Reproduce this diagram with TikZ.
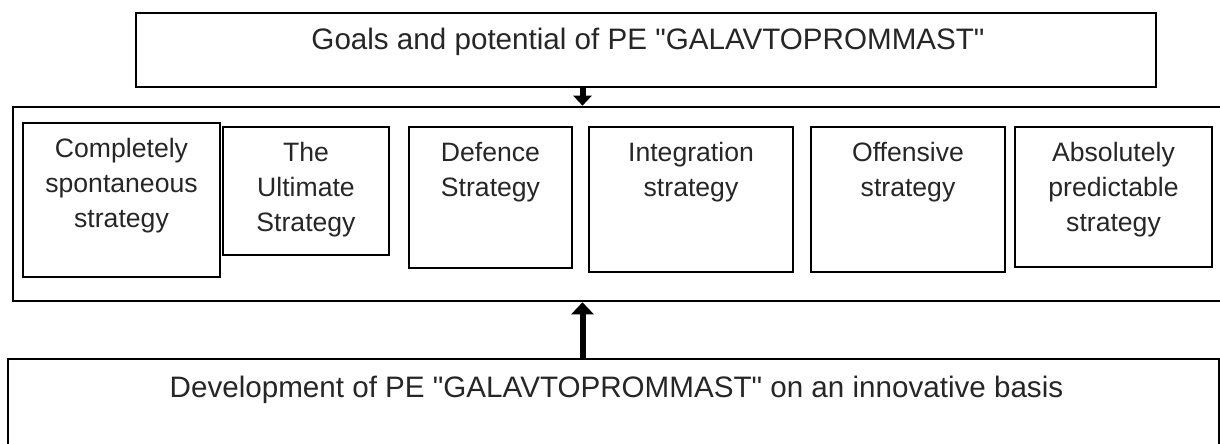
\documentclass[tikz,border=0pt]{standalone}
\usepackage{fontspec}
\setmainfont{Liberation Sans}
\usetikzlibrary{positioning,fit,arrows.meta}
\begin{document}
\begin{tikzpicture}[x=0.5pt,y=-0.5pt,
	box/.style={draw, line width=1.3pt, inner sep=0pt},
	lbl/.style={inner sep=0pt, align=center, text=black!85, font=\fontsize{13.3}{17.5}\selectfont},
	headtxt/.style={inner sep=0pt, text=black!85, font=\fontsize{14.8}{17}\selectfont},
	thick arrow/.style={line width=3pt, -{Triangle[width=9pt,length=5pt]}}]
	\useasboundingbox (0,0) rectangle (1220,444);
	% frames
	\node[box, fit={(136,13) (1156,87)}] (goals) {};
	\node[box, fit={(13,107) (1260,301)}] (strat) {};
	\node[box, fit={(8,359) (1219,470)}] (dev) {};
	\node[headtxt, below=8pt of goals.north, xshift=1pt] (goalstxt) {Goals and potential of PE \textquotedbl GALAVTOPROMMAST\textquotedbl};
	\node[headtxt, below=9pt of dev.north, xshift=1.5pt] (devtxt) {Development of PE \textquotedbl GALAVTOPROMMAST\textquotedbl{} on an innovative basis};
	% strategies
	\node[box, fit={(23,123) (220,277)}] (s1) {};
	\node[box, fit={(223,127) (389,255)}] (s2) {};
	\node[box, fit={(409,127) (572,268)}] (s3) {};
	\node[box, fit={(589,127) (793,272)}] (s4) {};
	\node[box, fit={(811,127) (1005,272)}] (s5) {};
	\node[box, fit={(1015,127) (1212,267)}] (s6) {};
	\node[lbl, below=8pt of s1.north] (t1) {Completely\\spontaneous\\strategy};
	\node[lbl, below=8pt of s2.north] (t2) {The\\Ultimate\\Strategy};
	\node[lbl, below=8pt of s3.north] (t3) {Defence\\Strategy};
	\node[lbl, below=8pt of s4.north] (t4) {Integration\\strategy};
	\node[lbl, below=8pt of s5.north] (t5) {Offensive\\strategy};
	\node[lbl, below=8pt of s6.north] (t6) {Absolutely\\predictable\\strategy};
	% links
	\coordinate (axis) at (582.5,0);
	\draw[thick arrow] (goals.south -| axis) -- (strat.north -| axis);
	\draw[thick arrow, -{Triangle[width=11pt,length=6pt]}] (dev.north -| axis) -- (strat.south -| axis);
\end{tikzpicture}
\end{document}
